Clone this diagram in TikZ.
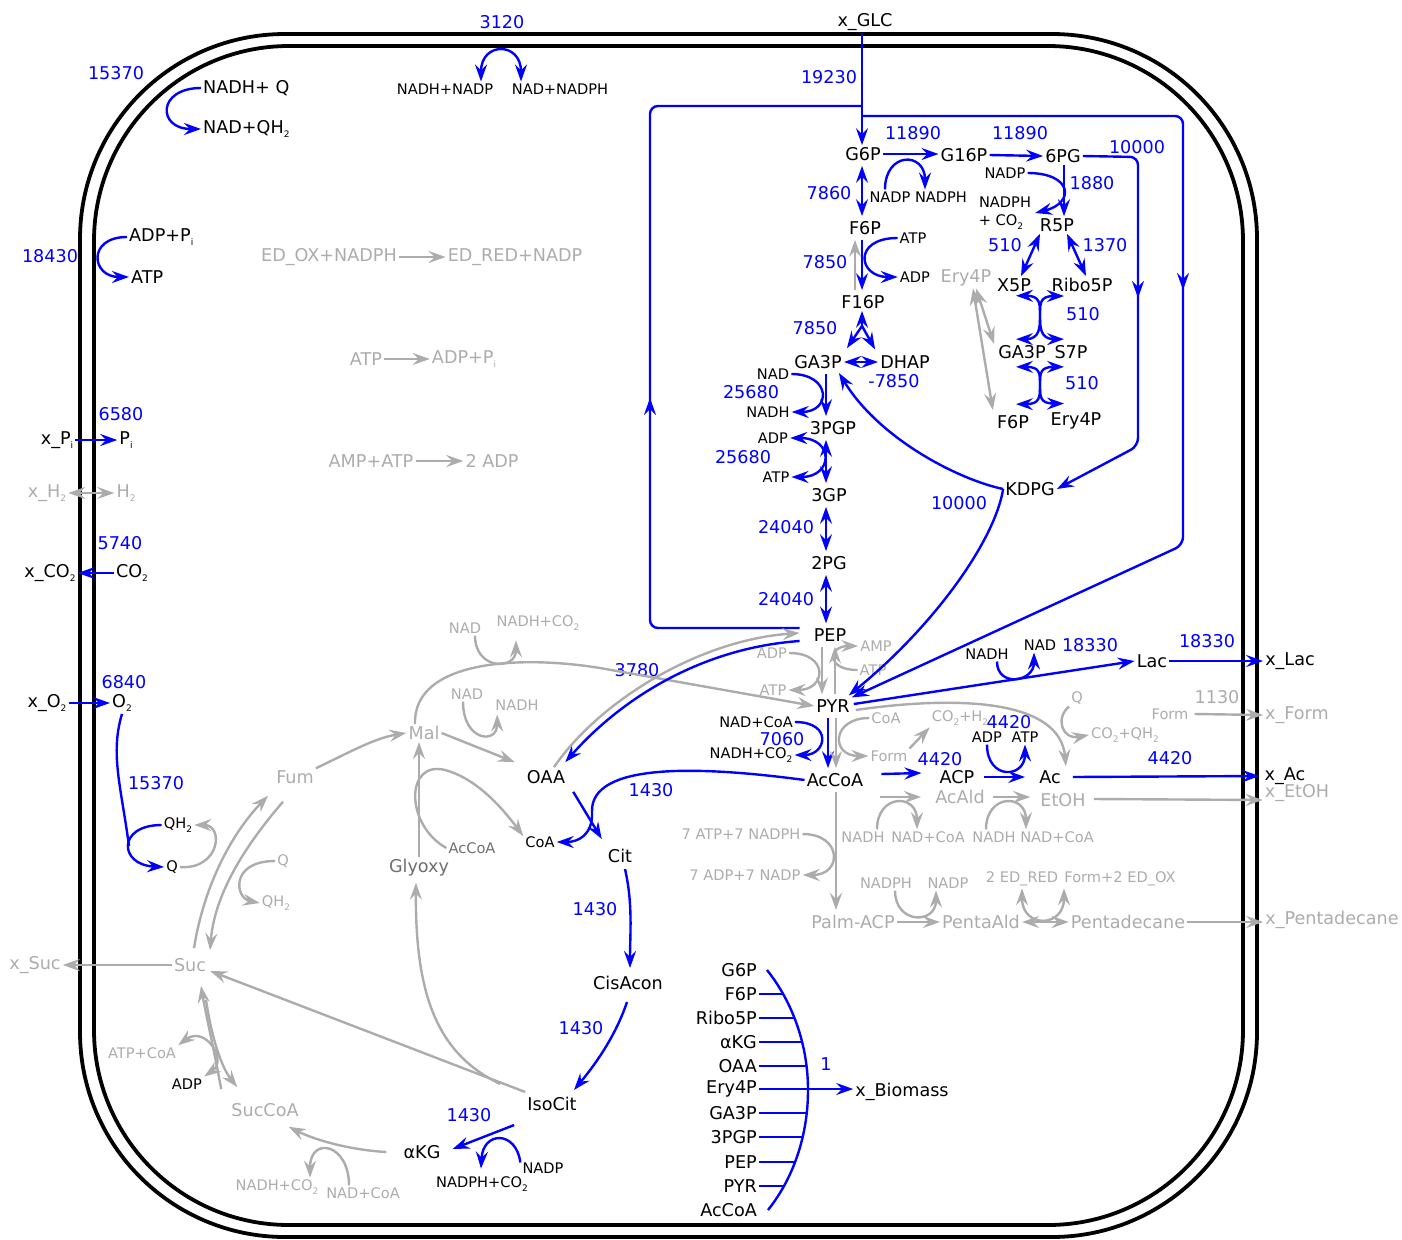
\documentclass[tikz,border=0pt]{standalone}
\usepackage{fontspec}
\setmainfont{DejaVu Sans}
\usetikzlibrary{arrows.meta, positioning, calc}
\definecolor{fluxblue}{RGB}{0, 0, 255}
\definecolor{zerogray}{RGB}{172, 172, 172}
\definecolor{midgray}{RGB}{110, 110, 110}
\newcommand{\lowtxt}[1]{\raisebox{-0.45ex}{\fontsize{9}{9}\selectfont #1}}

\begin{document}
\begin{tikzpicture}[x=1pt, y=-1pt, >={Stealth[length=17pt, width=12pt, inset=6pt]},
  met/.style={font=\fontsize{17.6}{20}\selectfont, inner sep=2pt},
  cof/.style={font=\fontsize{14.6}{17}\selectfont, inner sep=2pt},
  val/.style={met, text=fluxblue},
  zmet/.style={met, text=zerogray},
  zcof/.style={cof, text=zerogray},
  fluxline/.style={draw=fluxblue, line width=2.4pt},
  flux/.style={fluxline, ->},
  fluxrev/.style={fluxline, <->},
  zeroline/.style={draw=zerogray, line width=2.4pt},
  zero/.style={zeroline, ->},
  zerorev/.style={zeroline, <->},
  colgap/.style={shorten <=3pt, shorten >=3pt},
  wall/.style={draw, line width=3.8pt}]
  \useasboundingbox (0,0) rectangle (1402,1239);
  \draw[wall, rounded corners=205pt] (80,34) rectangle (1257,1237);
  \draw[wall, rounded corners=195pt] (94,46) rectangle (1243,1225);

  \coordinate (colg) at (862,0);
  \coordinate (colf) at (855,0);
  \coordinate (colr) at (1064,0);
  \coordinate (colx) at (826,0);
  \coordinate (colp) at (822,0);
  \coordinate (colq) at (835,0);
  \coordinate (colx2) at (828,0);
  \coordinate (colp2) at (836,0);

  \node[val] (vnuo) at (116,73) {15370};
  \node[met, anchor=west] (nadhq) at (201,88) {NADH+ Q};
  \node[met, anchor=west] (nadqh) at (201,129) {NAD+QH\lowtxt{2}};
  \node[val] (vatps) at (50,256) {18430};
  \node[met, anchor=west] (adppi) at (127,237) {ADP+P\lowtxt{i}};
  \node[met, anchor=west] (atpm) at (129,277) {ATP};
  \node[val] (vthd) at (502,22) {3120};
  \node[cof] (nadhnadp) at (445,89) {NADH+NADP};
  \node[cof] (nadnadph) at (560,89) {NAD+NADPH};
  \node[zmet] (edox) at (329,257) {ED\_OX+NADPH};
  \node[zmet] (edred) at (515,257) {ED\_RED+NADP};
  \node[zmet] (atpz) at (366,359) {ATP};
  \node[zmet] (adppiz) at (464,359) {ADP+P\lowtxt{i}};
  \node[zmet] (ampatp) at (371,461) {AMP+ATP};
  \node[zmet] (adp2z) at (492,461) {2 ADP};

  \node[val] (vpi) at (121,414) {6580};
  \node[met] (xpi) at (57,440) {x\_P\lowtxt{i}};
  \node[met] (pi) at (126,440) {P\lowtxt{i}};
  \node[zmet] (xh2) at (47,493) {x\_H\lowtxt{2}};
  \node[zmet] (h2) at (126,493) {H\lowtxt{2}};
  \node[val] (vco2) at (120,543) {5740};
  \node[met] (xco2) at (50,573) {x\_CO\lowtxt{2}};
  \node[met] (co2) at (132,573) {CO\lowtxt{2}};
  \node[val] (vo2) at (124,682) {6840};
  \node[met] (xo2) at (47,703) {x\_O\lowtxt{2}};
  \node[met] (o2) at (122,703) {O\lowtxt{2}};
  \node[val] (vcyo) at (156,783) {15370};
  \node[cof] (qh2) at (178,825) {QH\lowtxt{2}};
  \node[cof] (q) at (172,867) {Q};
  \coordinate (cyo) at (129,846);

  \node[zmet] (fum) at (295,777) {Fum};
  \node[zmet] (suc) at (190,965) {Suc};
  \node[zmet] (xsuc) at (35,965) {x\_Suc};
  \node[zcof] (qz) at (283,861) {Q};
  \node[zcof] (qh2z) at (276,903) {QH\lowtxt{2}};
  \node[zmet] (mal) at (424,733) {Mal};
  \node[zcof] (nadm) at (467,694) {NAD};
  \node[zcof] (nadhm) at (517,705) {NADH};
  \node[zmet, text=midgray] (glyoxy) at (419,868) {Glyoxy};
  \node[cof, text=midgray] (accoam) at (472,848) {AcCoA};
  \node[zcof] (nadme) at (465,628) {NAD};
  \node[zcof] (nadhco2me) at (538,623) {NADH+CO\lowtxt{2}};

  \node[met] (xglc) at (865,22) {x\_GLC};
  \node[val] (vpts) at (829,77) {19230};
  \node[met] (g6p) at (863,154) {G6P};
  \node[met] (g16p) at (964,155) {G16P};
  \node[met] (pg6) at (1063,156) {6PG};
  \node[val] (vpgm) at (913,133) {11890};
  \node[val] (vzwf) at (1020,133) {11890};
  \node[val] (vpgl) at (1137,147) {10000};
  \node[cof] (nadpz) at (890,197) {NADP};
  \node[cof] (nadphz) at (941,197) {NADPH};
  \node[met] (r5p) at (1057,225) {R5P};
  \node[val] (vgnd) at (1092,183) {1880};
  \node[cof] (nadpg) at (1005,173) {NADP};
  \node[cof] (nadphg) at (1005,202) {NADPH};
  \node[cof] (co2g) at (1001,222) {+ CO\lowtxt{2}};
  \node[val] (vrpe) at (1005,245) {510};
  \node[val] (vrpi) at (1105,245) {1370};
  \node[met] (x5p) at (1014,285) {X5P};
  \node[met] (ribo5p) at (1082,285) {Ribo5P};
  \node[zmet] (ery4pz) at (966,278) {Ery4P};
  \node[val] (vtkt1) at (1083,314) {510};
  \node[met] (ga3pp) at (1022,352) {GA3P};
  \node[met] (s7p) at (1071,352) {S7P};
  \node[val] (vtal) at (1082,383) {510};
  \node[met] (f6pp) at (1013,422) {F6P};
  \node[met] (ery4p) at (1076,421) {Ery4P};
  \coordinate (tka) at (1040,315);
  \coordinate (tkb) at (1040,385);

  \node[met] (f6p) at (865,228) {F6P};
  \node[val] (vpgi) at (829,193) {7860};
  \node[met] (f16p) at (863,302) {F16P};
  \node[val] (vpfk) at (825,262) {7850};
  \node[cof] (atpf) at (913,238) {ATP};
  \node[cof] (adpf) at (915,277) {ADP};
  \node[val] (vfba) at (815,328) {7850};
  \coordinate (fba) at (862,326);
  \node[met] (ga3p) at (818,362) {GA3P};
  \node[met] (dhap) at (905,362) {DHAP};
  \node[val] (vtpi) at (894,381) {-7850};
  \node[cof] (nadg) at (773,374) {NAD};
  \node[cof] (nadhg) at (768,412) {NADH};
  \node[val] (vgap) at (751,392) {25680};
  \node[met] (pgp3) at (833,428) {3PGP};
  \node[cof] (adpg) at (773,438) {ADP};
  \node[cof] (atpg) at (776,477) {ATP};
  \node[val] (vpgk) at (743,457) {25680};
  \node[met] (pg3) at (829,495) {3GP};
  \node[val] (vgpm) at (786,527) {24040};
  \node[met] (pg2) at (829,563) {2PG};
  \node[val] (veno) at (786,599) {24040};
  \node[met] (pep) at (830,635) {PEP};
  \node[met] (kdpg) at (1030,489) {KDPG};
  \node[val] (veda) at (959,503) {10000};

  \node[met] (pyr) at (833,706) {PYR};
  \node[zcof] (adpk) at (772,653) {ADP};
  \node[zcof] (atpk) at (773,690) {ATP};
  \node[zcof] (amps) at (876,646) {AMP};
  \node[zcof] (atps) at (873,670) {ATP};
  \node[val] (vppc) at (637,670) {3780};
  \node[met] (oaa) at (546,777) {OAA};
  \node[cof] (coa) at (540,842) {CoA};
  \node[met] (accoa) at (835,780) {AcCoA};
  \node[cof] (nadcoa) at (756,722) {NAD+CoA};
  \node[cof] (nadhco2) at (751,755) {NADH+CO\lowtxt{2}};
  \node[val] (vpdh) at (782,739) {7060};
  \node[zcof] (coap) at (886,718) {CoA};
  \node[zcof] (formp) at (889,756) {Form};
  \node[zcof] (co2h2) at (960,718) {CO\lowtxt{2}+H\lowtxt{2}};

  \node[met] (cit) at (620,856) {Cit};
  \node[met] (cisacon) at (628,983) {CisAcon};
  \node[met] (isocit) at (552,1104) {IsoCit};
  \node[met] (akg) at (422,1152) {αKG};
  \node[zmet] (succoa) at (265,1110) {SucCoA};
  \node[val] (vglt) at (651,790) {1430};
  \node[val] (vacn1) at (595,909) {1430};
  \node[val] (vacn2) at (581,1028) {1430};
  \node[val] (vicd) at (469,1115) {1430};
  \node[cof] (nadpi) at (543,1168) {NADP};
  \node[cof] (nadphi) at (482,1184) {NADPH+CO\lowtxt{2}};
  \node[zcof] (nadcoak) at (363,1193) {NAD+CoA};
  \node[zcof] (nadhco2k) at (277,1187) {NADH+CO\lowtxt{2}};
  \node[zcof] (atpcoa) at (142,1053) {ATP+CoA};
  \node[cof] (adpsc) at (187,1084) {ADP};

  \node[met] (lac) at (1152,661) {Lac};
  \node[met] (xlac) at (1290,661) {x\_Lac};
  \node[val] (vldh) at (1090,645) {18330};
  \node[val] (vlac) at (1207,641) {18330};
  \node[cof] (nadhl) at (987,654) {NADH};
  \node[cof] (nadl) at (1040,645) {NAD};
  \node[val] (vpta) at (940,759) {4420};
  \node[met] (acp) at (957,777) {ACP};
  \node[met] (ac) at (1050,777) {Ac};
  \node[met] (xac) at (1285,776) {x\_Ac};
  \node[val] (vack) at (1009,722) {4420};
  \node[val] (vac) at (1170,758) {4420};
  \node[cof] (adpa) at (987,737) {ADP};
  \node[cof] (atpa) at (1025,737) {ATP};
  \node[zcof] (qp) at (1077,698) {Q};
  \node[zcof] (co2qh2) at (1125,735) {CO\lowtxt{2}+QH\lowtxt{2}};
  \node[zcof] (formx) at (1170,714) {Form};
  \node[zmet] (xform) at (1297,715) {x\_Form};
  \node[zmet] (vfor) at (1217,697) {1130};
  \node[zmet] (acald) at (960,797) {AcAld};
  \node[zmet] (etoh) at (1063,800) {EtOH};
  \node[zmet] (xetoh) at (1297,793) {x\_EtOH};
  \node[zcof] (nadha) at (863,837) {NADH};
  \node[zcof] (nadcoaa) at (928,837) {NAD+CoA};
  \node[zcof] (nadhe) at (994,837) {NADH};
  \node[zcof] (nadcoae) at (1057,837) {NAD+CoA};
  \node[zmet] (palm) at (853,922) {Palm-ACP};
  \node[zcof] (atpnadph) at (741,834) {7 ATP+7 NADPH};
  \node[zcof] (adpnadp) at (745,875) {7 ADP+7 NADP};
  \node[zmet] (pentaald) at (981,922) {PentaAld};
  \node[zmet] (pentadec) at (1128,922) {Pentadecane};
  \node[zmet] (xpentadec) at (1332,920) {x\_Pentadecane};
  \node[zcof] (nadphp) at (886,883) {NADPH};
  \node[zcof] (nadpp) at (948,883) {NADP};
  \node[zcof] (edred2) at (1022,879) {2 ED\_RED};
  \node[zcof] (formedox) at (1120,879) {Form+2 ED\_OX};

  \node[met] (xbio) at (902,1092) {x\_Biomass};
  \node[val] (vbio) at (826,1064) {1};
  \foreach \nm/\txt/\yy in {g6p/G6P/970, f6p/F6P/994, ribo5p/Ribo5P/1018, akg/αKG/1042, oaa/OAA/1066, ery4p/Ery4P/1089, ga3p/GA3P/1113, pgp/3PGP/1137, pep/PEP/1162, pyr/PYR/1186, accoa/AcCoA/1210}
    \node[met, anchor=east] (b\nm) at (759,\yy) {\txt};

  \draw[flux] (nadhq.west) .. controls +(-44,0) and +(-44,0) .. (nadqh.west);
  \draw[flux] (adppi.west) .. controls +(-40,0) and +(-38,0) .. (atpm.west);
  \draw[fluxrev] ($(nadhnadp.north)+(36,0)$) .. controls +(0,-40) and +(0,-40) .. ($(nadnadph.north)+(-39,0)$);
  \draw[zero] (edox.east) -- (edred.west);
  \draw[zero] (atpz.east) -- (adppiz.west);
  \draw[zero] (ampatp.east) -- (adp2z.west);
  \draw[flux] (xpi.east) -- (pi.west);
  \draw[zerorev] (xh2.east) -- (h2.west);
  \draw[flux] (co2.west) -- (xco2.east);
  \draw[flux] (xo2.east) -- (o2.west);
  \draw[fluxline] (o2.south) .. controls +(-12,40) and +(-8,-60) .. (cyo);
  \draw[flux] (qh2.west) .. controls +(-45,0) and +(-45,-2) .. (q.west);
  \draw[zero] (q.east) .. controls +(40,3) and +(30,0) .. (qh2.east);

  \draw[zero] (suc.west) -- (xsuc.east);
  \draw[zero] ($(suc.north)+(4,-8)$) .. controls (205,880) and (235,830) .. ($(fum.south west)+(-6,10)$);
  \draw[zero] ($(fum.south)+(-12,16)$) .. controls (250,840) and (215,890) .. ($(suc.north)+(20,-6)$);
  \draw[zero] (qz.west) .. controls +(-45,0) and +(-25,-5) .. (qh2z.west);
  \draw[zero] (fum.north east) .. controls (350,752) and (375,738) .. (mal.west);
  \draw[zero] ($(nadm.south)+(-4,0)$) .. controls +(0,40) and +(0,30) .. ($(nadhm.south west)+(4,2)$);
  \draw[zero] (mal.east) -- ($(oaa.north west)+(-10,-6)$);
  \draw[zero] (glyoxy.north) -- (glyoxy.north |- mal.south);
  \draw[zero] (accoam.west) .. controls (405,825) and (405,760) .. (445,770) .. controls (475,778) and (500,805) .. ($(coa.west)+(0,-6)$);
  \draw[zero] ($(nadme.south)+(10,0)$) .. controls +(0,35) and +(0,30) .. ($(nadhco2me.south)+(-22,8)$);
  \draw[zero] ($(mal.north)+(-9,0)$) .. controls (413,660) and (520,655) .. (600,668) -- (pyr.west);

  \draw[flux] (xglc.south -| colg) -- (g6p.north -| colg);
  \draw[fluxline, rounded corners=8pt] ($(pep.west)+(-12,-7)$) -| (650,106) -- (862,106);
  \draw[flux] (650,460) -- (650,398);
  \draw[flux, rounded corners=8pt] (862,116) -- (1183,116) -- (1183,545) -- (pyr.north east);
  \draw[flux] (1183,240) -- (1183,290);
  \draw[flux] (g6p.east) -- (g6p.east -| g16p.west);
  \draw[flux] ($(nadpz.north)+(-5,0)$) .. controls +(0,-38) and +(0,-38) .. ($(nadphz.north)+(-16,0)$);
  \draw[flux] (g16p.east) -- (pg6.west);
  \draw[flux, rounded corners=8pt] (pg6.east) -- (1138,157) -- (1138,446) -- (kdpg.east);
  \draw[flux] (1138,250) -- (1138,298);
  \draw[flux] (pg6.south -| colr) -- (r5p.north -| colr);
  \draw[flux] (nadpg.east) .. controls +(45,0) and +(40,-10) .. ($(nadphg.east)+(2,11)$);
  \draw[fluxrev] ($(r5p.south)+(-17,0)$) -- ($(x5p.north)+(7,0)$);
  \draw[fluxrev] ($(r5p.south)+(10,0)$) -- ($(ribo5p.north)+(4,0)$);
  \draw[fluxrev] ($(x5p.south)+(2,2)$) .. controls +(24,0) and +(0,-12) .. (tka) .. controls +(0,12) and +(-24,0) .. ($(s7p.north)+(-7,-4)$);
  \draw[fluxrev] ($(ribo5p.south)+(-18,2)$) .. controls +(-24,0) and +(0,-12) .. (tka) .. controls +(0,12) and +(24,0) .. ($(ga3pp.north)+(-6,-4)$);
  \draw[fluxrev] ($(ga3pp.south)+(-6,6)$) .. controls +(24,0) and +(0,-12) .. (tkb) .. controls +(0,12) and +(-24,0) .. ($(ery4p.north)+(-12,-7)$);
  \draw[fluxrev] ($(s7p.south)+(-7,6)$) .. controls +(-24,0) and +(0,-12) .. (tkb) .. controls +(0,12) and +(24,0) .. ($(f6pp.north)+(3,-9)$);
  \draw[zerorev] ($(ery4pz.south)+(7,0)$) -- ($(f6pp.north west)+(-2,-3)$);
  \draw[zerorev] ($(ery4pz.south)+(10,0)$) -- ($(ga3pp.west)+(-2,-8)$);

  \draw[fluxrev, colgap] (g6p.south -| colg) -- (f6p.north -| colg);
  \draw[flux, colgap] (f6p.south -| colg) -- (f16p.north -| colg);
  \draw[zero, colgap] (f16p.north -| colf) -- (f6p.south -| colf);
  \draw[flux] (atpf.west) .. controls +(-45,0) and +(-40,0) .. (adpf.west);
  \draw[flux] (fba) -- (f16p.south -| colg);
  \draw[flux] (fba) -- ($(ga3p.north east)+(3,-5)$);
  \draw[flux] (fba) -- ($(dhap.north west)+(-3,-4)$);
  \draw[fluxrev] (ga3p.east) -- (dhap.west);
  \draw[flux, colgap] (ga3p.south -| colx) -- (pgp3.north -| colx);
  \draw[flux] (nadg.east) .. controls +(40,0) and +(40,0) .. (nadhg.east);
  \draw[fluxrev, colgap] (pgp3.south -| colx) -- (pg3.north -| colx);
  \draw[fluxrev] (adpg.east) .. controls +(44,0) and +(42,0) .. (atpg.east);
  \draw[fluxrev, colgap] (pg3.south -| colx) -- (pg2.north -| colx);
  \draw[fluxrev, colgap] (pg2.south -| colx) -- (pep.north -| colx);
  \draw[flux] (kdpg.west) .. controls (960,480) and (880,440) .. ($(ga3p.east)+(-5,11)$);
  \draw[flux] (kdpg.west) .. controls (995,540) and (935,625) .. ($(pyr.north east)+(-3,-2)$);

  \draw[zero, colgap] (pep.south -| colp) -- (pyr.north -| colp);
  \draw[zero, colgap] (pyr.north -| colq) -- (pep.south -| colq);
  \draw[zero] (adpk.east) .. controls +(40,0) and +(38,0) .. (atpk.east);
  \draw[zero] (atps.west) .. controls +(-32,0) and +(-30,0) .. (amps.west);
  \draw[flux] ($(pep.west)+(-12,6)$) .. controls (700,648) and (620,700) .. ($(oaa.north east)+(-2,-6)$);
  \draw[zero] ($(oaa.north)+(8,-1)$) .. controls (600,700) and (700,640) .. ($(pep.west)+(-12,-2)$);
  \draw[flux, colgap] (pyr.south -| colx2) -- (accoa.north -| colx2);
  \draw[flux] (nadcoa.east) .. controls +(38,0) and +(32,0) .. (nadhco2.east);
  \draw[zero, colgap] (pyr.south -| colp2) -- (accoa.north -| colp2);
  \draw[zero] (coap.west) .. controls +(-38,0) and +(-38,0) .. (formp.west);
  \draw[zero] (formp.north east) -- (co2h2.south west);

  \draw[flux] ($(oaa.south east)+(6,6)$) -- ($(cit.north west)+(-4,-8)$);
  \draw[flux] (accoa.west) .. controls (700,766) and (590,762) .. (592,812) .. controls (593,835) and (578,842) .. (coa.east);
  \draw[flux] ($(cit.south)+(5,4)$) .. controls +(8,35) and +(0,-35) .. ($(cisacon.north)+(2,-6)$);
  \draw[flux] ($(cisacon.south)+(-1,10)$) .. controls +(-10,30) and +(25,-30) .. ($(isocit.north)+(22,-5)$);
  \draw[flux] ($(isocit.south west)+(-11,12)$) -- ($(akg.east)+(10,-3)$);
  \draw[flux] ($(nadpi.north west)+(0,2)$) .. controls +(-4,-32) and +(2,-38) .. ($(nadphi.north)+(-1,-6)$);
  \draw[zero] ($(akg.west)+(-15,0)$) .. controls (350,1150) and (315,1140) .. ($(succoa.south east)+(-12,8)$);
  \draw[zero] ($(nadcoak.north)+(-14,0)$) .. controls +(0,-42) and +(0,-42) .. ($(nadhco2k.north)+(33,0)$);
  \draw[zero] ($(isocit.west)+(0,-12)$) -- ($(suc.east)+(2,6)$);
  \draw[zero] ($(isocit.west)+(-25,-20)$) .. controls (440,1055) and (415,1000) .. ($(glyoxy.south)+(-3,4)$);
  \draw[zero] ($(succoa.north west)+(-8,-12)$) .. controls (212,1040) and (205,1010) .. ($(suc.south)+(11,12)$);
  \draw[zero] ($(suc.south)+(16,26)$) .. controls (212,1040) and (222,1068) .. ($(succoa.north west)+(8,-14)$);
  \draw[zerorev] (atpcoa.north east) .. controls (205,1025) and (228,1060) .. (adpsc.north east);

  \draw[flux] ($(pyr.east)+(2,-2)$) -- (lac.west);
  \draw[flux] (lac.east) -- (xlac.west);
  \draw[flux] ($(nadhl.south)+(10,0)$) .. controls +(0,26) and +(0,30) .. ($(nadl.south)+(-6,0)$);
  \draw[flux] ($(accoa.east)+(16,-6)$) -- ($(acp.west)+(-16,-4)$);
  \draw[flux] ($(acp.east)+(7,0)$) -- ($(ac.west)+(-12,0)$);
  \draw[flux] (adpa.south) .. controls +(0,36) and +(0,34) .. (atpa.south);
  \draw[flux] ($(ac.east)+(10,0)$) -- ($(xac.west)+(-3,0)$);
  \draw[zero] ($(pyr.east)+(4,4)$) .. controls (960,695) and (1060,700) .. ($(ac.north east)+(3,-2)$);
  \draw[zero] (qp.south west) .. controls (1055,718) and (1062,740) .. (co2qh2.west);
  \draw[zero] ($(formx.east)+(4,0)$) -- (xform.west);
  \draw[zero] ($(accoa.east)+(15,17)$) -- ($(acald.west)+(-12,0)$);
  \draw[zero] ($(nadha.north)+(14,0)$) .. controls +(0,-36) and +(0,-36) .. ($(nadcoaa.north)+(-11,0)$);
  \draw[zero] ($(acald.east)+(6,0)$) -- ($(etoh.west)+(-8,-3)$);
  \draw[zero] ($(nadhe.north)+(-8,0)$) .. controls +(0,-36) and +(0,-36) .. ($(nadcoae.north)+(-31,0)$);
  \draw[zero] ($(etoh.east)+(6,-1)$) -- (xetoh.west |- etoh.east);
  \draw[zero] ($(accoa.south)+(1,3)$) -- ($(palm.north)+(-17,-3)$);
  \draw[zero] (atpnadph.east) .. controls +(40,0) and +(40,0) .. (adpnadp.east);
  \draw[zero] (palm.east) -- (pentaald.west);
  \draw[zero] ($(nadphp.south)+(9,0)$) .. controls +(0,34) and +(0,34) .. ($(nadpp.south)+(-12,0)$);
  \draw[zerorev] (pentaald.east) -- (pentadec.west);
  \draw[zerorev] (edred2.south) .. controls +(0,40) and +(0,40) .. ($(formedox.south)+(-56,0)$);
  \draw[zero] (pentadec.east) -- (xpentadec.west |- pentadec.east);

  \draw[fluxline] ($(bg6p.east)+(8,0)$) .. controls (794,1004) and (808,1047) .. (808,1090) .. controls (808,1133) and (795,1176) .. ($(baccoa.east)+(9,0)$);
  \foreach \nm/\dx in {f6p/23, ribo5p/35, akg/43, oaa/47, ga3p/47, pgp/43, pep/36, pyr/24}
    \draw[fluxline] (b\nm.east) -- +(\dx,0);
  \draw[flux] (bery4p.east) -- (bery4p.east -| xbio.west);
\end{tikzpicture}
\end{document}
